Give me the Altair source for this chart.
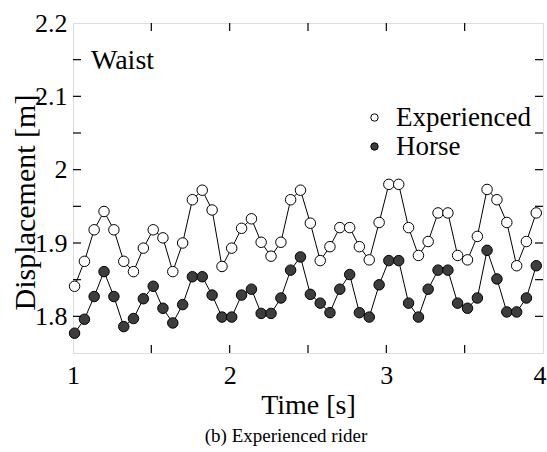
import altair as alt
import pandas as pd

# ---- data ----
time_s = [1.010, 1.073, 1.135, 1.198, 1.261, 1.324, 1.386, 1.449, 1.512, 1.574,
          1.637, 1.700, 1.762, 1.825, 1.888, 1.951, 2.013, 2.076, 2.139, 2.201,
          2.264, 2.327, 2.389, 2.452, 2.515, 2.578, 2.640, 2.703, 2.766, 2.828,
          2.891, 2.954, 3.016, 3.079, 3.142, 3.205, 3.267, 3.330, 3.393, 3.455,
          3.518, 3.581, 3.643, 3.706, 3.769, 3.832, 3.894, 3.957]

experienced = [1.841, 1.875, 1.918, 1.943, 1.918, 1.875, 1.861, 1.893, 1.918, 1.907,
               1.861, 1.900, 1.959, 1.972, 1.945, 1.868, 1.893, 1.920, 1.933, 1.901,
               1.882, 1.901, 1.959, 1.972, 1.927, 1.876, 1.895, 1.921, 1.921, 1.895,
               1.877, 1.928, 1.980, 1.980, 1.921, 1.883, 1.902, 1.941, 1.941, 1.883,
               1.877, 1.909, 1.973, 1.959, 1.928, 1.869, 1.902, 1.941]

horse = [1.777, 1.796, 1.827, 1.861, 1.827, 1.786, 1.797, 1.824, 1.841, 1.811,
         1.791, 1.816, 1.854, 1.854, 1.829, 1.799, 1.799, 1.829, 1.837, 1.804,
         1.804, 1.825, 1.863, 1.881, 1.830, 1.818, 1.805, 1.837, 1.857, 1.805,
         1.799, 1.843, 1.876, 1.876, 1.818, 1.799, 1.837, 1.863, 1.863, 1.818,
         1.811, 1.825, 1.890, 1.851, 1.806, 1.806, 1.825, 1.869]

series_names = ["Experienced", "Horse"]
x_label_values = [1, 2, 3, 4]
y_label_values = [1.8, 1.9, 2.0, 2.1, 2.2]
x_tick_values = [1.5, 2, 2.5, 3, 3.5]
y_tick_values = [1.8, 1.85, 1.9, 1.95, 2.0, 2.05, 2.1, 2.15]

FONT = "Liberation Serif"
W, H = 470, 330

df = pd.DataFrame({
    "t": time_s * 2,
    "d": experienced + horse,
    "s": [series_names[0]] * len(time_s) + [series_names[1]] * len(time_s),
})

xs = alt.Scale(domain=[1, 4], nice=False, zero=False)
ys = alt.Scale(domain=[1.75, 2.2], nice=False, zero=False)

base = alt.Chart(df)

lines = base.mark_line(color="black", strokeWidth=1).encode(
    x=alt.X("t:Q", scale=xs,
            axis=alt.Axis(values=x_label_values, title="Time [s]", ticks=False, domain=False,
                          grid=False, format="d", labelFont=FONT, labelFontSize=26,
                          labelColor="black", labelPadding=9, titleFont=FONT,
                          titleFontSize=28, titleFontWeight="normal", titleColor="black",
                          titleBaseline="alphabetic", titleY=60, titleX=W / 2,
                          labelFlush=False,
                          labelAlign=alt.condition("datum.value >= 4",
                                                   alt.value("right"),
                                                   alt.value("center")),
                          labelOffset=alt.condition("datum.value >= 4",
                                                    alt.value(3), alt.value(0)))),
    y=alt.Y("d:Q", scale=ys,
            axis=alt.Axis(values=y_label_values, title="Displacement [m]", ticks=False,
                          domain=False, grid=False, format=".2~f", labelFont=FONT,
                          labelFontSize=26, labelColor="black", labelPadding=6,
                          titleFont=FONT, titleFontSize=30, titleFontWeight="normal",
                          titleColor="black", titleBaseline="middle", titleX=-48,
                          titleY=179, labelFlush=False)),
    detail="s:N",
)

points = base.mark_point(shape="circle", filled=True, stroke="black", strokeWidth=1,
                         size=110, opacity=1).encode(
    x="t:Q",
    y="d:Q",
    fill=alt.Fill("s:N",
                  scale=alt.Scale(domain=series_names, range=["white", "#3d3d3d"]),
                  legend=alt.Legend(title=None, orient="none", legendX=288, legendY=81,
                                    padding=0, labelFont=FONT, labelFontSize=27,
                                    labelColor="black", symbolSize=55,
                                    symbolStrokeColor="black", symbolStrokeWidth=1,
                                    symbolType="circle", labelOffset=8,
                                    rowPadding=1, symbolOpacity=1)),
)

# inward ticks on all four sides
xt = alt.Chart(pd.DataFrame({"v": x_tick_values}))
yt = alt.Chart(pd.DataFrame({"v": y_tick_values}))
tick_style = dict(color="black", strokeWidth=1.2)
ticks = [
    xt.mark_rule(**tick_style).encode(x=alt.X("v:Q", scale=xs), y=alt.value(H), y2=alt.value(H - 8)),
    xt.mark_rule(**tick_style).encode(x=alt.X("v:Q", scale=xs), y=alt.value(0), y2=alt.value(8)),
    yt.mark_rule(**tick_style).encode(y=alt.Y("v:Q", scale=ys), x=alt.value(0), x2=alt.value(8)),
    yt.mark_rule(**tick_style).encode(y=alt.Y("v:Q", scale=ys), x=alt.value(W), x2=alt.value(W - 8)),
]

waist = alt.Chart(pd.DataFrame({"label": ["Waist"]})).mark_text(
    font=FONT, fontSize=28, align="left", baseline="alphabetic", color="black"
).encode(text="label:N", x=alt.value(18), y=alt.value(46))

chart = alt.layer(lines, points, *ticks, waist).properties(
    width=W, height=H,
    title=alt.TitleParams("(b) Experienced rider", orient="bottom", anchor="middle",
                          font=FONT, fontSize=19, fontWeight="normal", color="black",
                          offset=8, dx=-22),
    padding={"left": 73, "top": 23, "right": 4, "bottom": 99},
    autosize=alt.AutoSizeParams(type="none"),
).configure_view(stroke="black", strokeWidth=1.5).configure(background="white")

chart.save("out.html", embed_options={"renderer": "svg", "actions": False})
